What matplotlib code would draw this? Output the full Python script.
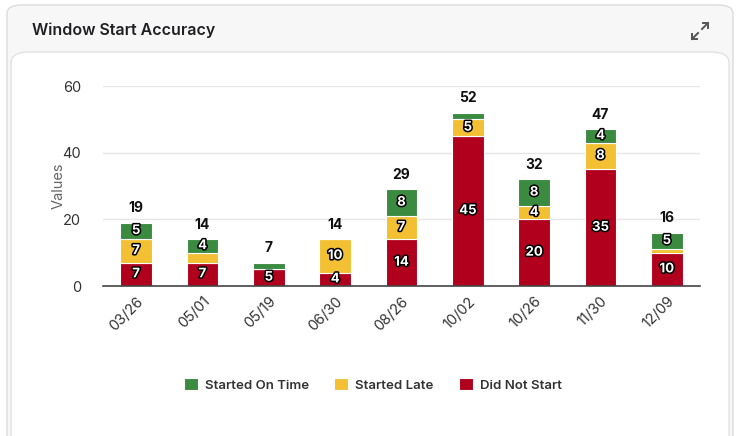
import matplotlib
matplotlib.use("Agg")
import matplotlib.pyplot as plt
import matplotlib.patheffects as pe
from matplotlib.patches import FancyBboxPatch
from matplotlib.lines import Line2D
import numpy as np

plt.rcParams['font.family'] = ['Inter', 'DejaVu Sans']

dates = ["03/26", "05/01", "05/19", "06/30", "08/26", "10/02", "10/26", "11/30", "12/09"]
did_not_start = [7, 7, 5, 4, 14, 45, 20, 35, 10]
started_late = [7, 3, 0, 10, 7, 5, 4, 8, 1]
started_on_time = [5, 4, 2, 0, 8, 2, 8, 4, 5]

series = [
    ("Did Not Start", did_not_start, "#b0001e"),
    ("Started Late", started_late, "#f3c033"),
    ("Started On Time", started_on_time, "#3a8a40"),
]

fig = plt.figure(figsize=(7.4, 4.36), dpi=100)
fig.patch.set_facecolor("white")

# card background
card = FancyBboxPatch((7/740, -0.05), 726/740, 1 - 5/436 + 0.05,
                      boxstyle="round,pad=0,rounding_size=0.02",
                      transform=fig.transFigure, facecolor="#f7f7f8",
                      edgecolor="#dcdcdf", linewidth=1, zorder=-3)
fig.patches.append(card)
inner = FancyBboxPatch((11/740, -0.05), 718/740, 1 - 52/436 + 0.05,
                       boxstyle="round,pad=0,rounding_size=0.025",
                       transform=fig.transFigure, facecolor="white",
                       edgecolor="#e2e2e5", linewidth=1, zorder=-2)
fig.patches.append(inner)

fig.text(32/740, 1 - 30/436, "Window Start Accuracy", fontsize=11.5, fontweight="semibold",
         color="#1f2023", va="center", ha="left")

# expand icon (two diagonal arrows)
def fx(px):
    return px / 740
def fy(py):
    return 1 - py / 436
icon_col = "#555555"
for (x0, y0, x1, y1) in [(702, 29, 708, 23), (698, 33, 692, 39)]:
    fig.add_artist(Line2D([fx(x0), fx(x1)], [fy(y0), fy(y1)], color=icon_col, lw=1.4,
                          transform=fig.transFigure))
for (cx, cy, dx, dy) in [(708, 23, -1, 1), (692, 39, 1, -1)]:
    fig.add_artist(Line2D([fx(cx + dx * 5), fx(cx), fx(cx)], [fy(cy), fy(cy), fy(cy + dy * 5)],
                          color=icon_col, lw=1.4, transform=fig.transFigure))

ax = fig.add_axes([103/740, 1 - 286/436, 597/740, 200/436])
ax.set_facecolor("none")
x = np.arange(len(dates))
width = 0.48
bottom = np.zeros(len(dates))
for name, vals, col in series:
    vals = np.array(vals)
    ax.bar(x, vals, width, bottom=bottom, color=col, label=name,
           edgecolor="white", linewidth=0.8, zorder=3)
    for xi, b, v in zip(x, bottom, vals):
        if v >= 4:
            ax.text(xi, b + v / 2, str(v), ha="center", va="center", fontsize=9.5,
                    fontweight="bold", color="white", zorder=5,
                    path_effects=[pe.withStroke(linewidth=2.2, foreground="black")])
    bottom = bottom + vals

totals = bottom
for xi, t in zip(x, totals):
    ax.text(xi, t + 4.4, str(int(t)), ha="center", va="center", fontsize=10,
            fontweight="bold", color="#111111", clip_on=False)

ax.set_xlim(-0.5, len(dates) - 0.5)
ax.set_ylim(0, 60)
ax.set_yticks([0, 20, 40, 60])
ax.set_xticks(x)
ax.set_xticklabels(dates, rotation=45, ha="right", rotation_mode="anchor")
ax.tick_params(axis="both", length=0, labelsize=10.5, colors="#333333")
ax.tick_params(axis="y", pad=16)
ax.tick_params(axis="x", pad=6)
ax.grid(axis="y", color="#e6e6e6", linewidth=1, zorder=0)
for s in ["top", "right", "left"]:
    ax.spines[s].set_visible(False)
ax.spines["bottom"].set_color("#444444")
ax.spines["bottom"].set_linewidth(1.2)
ax.spines["bottom"].set_zorder(4)
ax.set_ylabel("Values", color="#666666", fontsize=10.5)
ax.yaxis.set_label_coords(-0.062, 0.5)

handles, labels = ax.get_legend_handles_labels()
order = [2, 1, 0]
leg = fig.legend([handles[i] for i in order], [labels[i] for i in order],
                 loc="center", bbox_to_anchor=(373/740, 1 - 385/436), ncol=3,
                 frameon=False, fontsize=9.5, handlelength=1.05, handleheight=1.05,
                 handletextpad=0.55, columnspacing=1.9)
for t in leg.get_texts():
    t.set_fontweight("semibold")
    t.set_color("#333333")

fig.savefig("out.png", dpi=100, facecolor=fig.get_facecolor())
